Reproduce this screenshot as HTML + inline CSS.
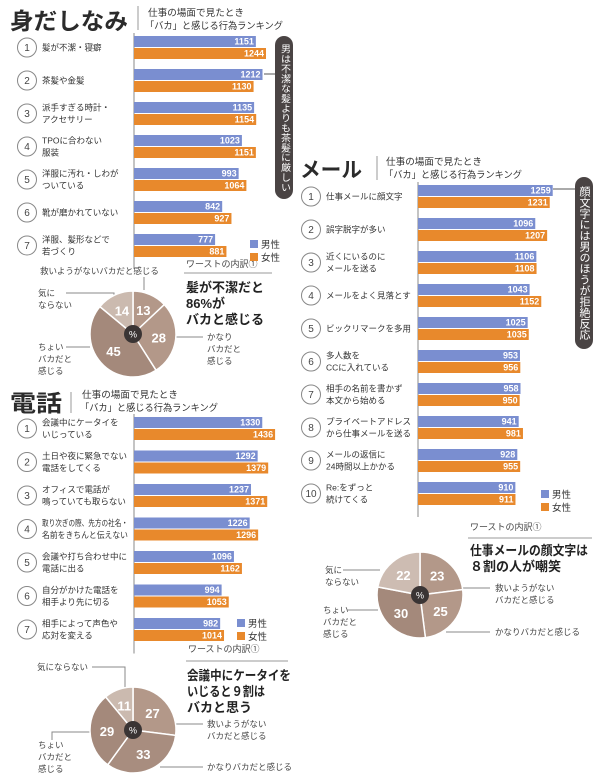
<!DOCTYPE html>
<html><head><meta charset="utf-8">
<style>
body{margin:0;background:#fff}
svg{display:block;font-family:"Liberation Sans","Noto Sans CJK JP",sans-serif}
.s{fill:#444;font-size:8.5px}
</style></head>
<body>
<svg id="c" width="600" height="779" viewBox="0 0 600 779">
<!-- section headers -->
<text x="10" y="29" font-size="23" font-weight="bold" fill="#2b2b2b" textLength="118" lengthAdjust="spacingAndGlyphs">身だしなみ</text>
<line x1="138" y1="6" x2="138" y2="30" stroke="#999"/>
<text x="148" y="16" font-size="9.5" fill="#333" textLength="96" lengthAdjust="spacingAndGlyphs">仕事の場面で見たとき</text>
<text x="145" y="29" font-size="9.5" fill="#333" textLength="138" lengthAdjust="spacingAndGlyphs">「バカ」と感じる行為ランキング</text>

<text x="10" y="411" font-size="23" font-weight="bold" fill="#2b2b2b" textLength="52" lengthAdjust="spacingAndGlyphs">電話</text>
<line x1="71" y1="392" x2="71" y2="413" stroke="#999"/>
<text x="82" y="398" font-size="9.5" fill="#333" textLength="96" lengthAdjust="spacingAndGlyphs">仕事の場面で見たとき</text>
<text x="80" y="411" font-size="9.5" fill="#333" textLength="138" lengthAdjust="spacingAndGlyphs">「バカ」と感じる行為ランキング</text>

<text x="300" y="177" font-size="21" font-weight="bold" fill="#2b2b2b" textLength="62" lengthAdjust="spacingAndGlyphs">メール</text>
<line x1="377" y1="156" x2="377" y2="180" stroke="#999"/>
<text x="386" y="165" font-size="9.5" fill="#333" textLength="96" lengthAdjust="spacingAndGlyphs">仕事の場面で見たとき</text>
<text x="384" y="178" font-size="9.5" fill="#333" textLength="138" lengthAdjust="spacingAndGlyphs">「バカ」と感じる行為ランキング</text>

<!-- callouts -->
<rect x="275" y="36" width="18" height="163" rx="9" fill="#4a4444"/>
<text x="284" y="44" font-size="10" fill="#fff" style="writing-mode:vertical-rl" textLength="148" lengthAdjust="spacingAndGlyphs">男は不潔な髪よりも茶髪に厳しい</text>
<line x1="264" y1="74" x2="275" y2="74" stroke="#555"/>
<rect x="575" y="177" width="18" height="172" rx="9" fill="#4a4444"/>
<text x="584" y="186" font-size="11" fill="#fff" style="writing-mode:vertical-rl">顔文字には男のほうが拒絶反応</text>
<line x1="553" y1="189" x2="575" y2="189" stroke="#555"/>

<!-- worst headers -->
<text x="186" y="267" font-size="9" fill="#444">ワーストの内訳①</text>
<line x1="184" y1="273" x2="272" y2="273" stroke="#999"/>
<text x="186" y="292" font-size="13" font-weight="bold" fill="#222">髪が不潔だと</text>
<text x="186" y="308" font-size="13" font-weight="bold" fill="#222">86%が</text>
<text x="186" y="324" font-size="13" font-weight="bold" fill="#222">バカと感じる</text>

<text x="188" y="652" font-size="9" fill="#444">ワーストの内訳①</text>
<line x1="186" y1="661" x2="288" y2="661" stroke="#999"/>
<text x="187" y="680" font-size="13" font-weight="bold" fill="#222" textLength="104" lengthAdjust="spacingAndGlyphs">会議中にケータイを</text>
<text x="187" y="696" font-size="13" font-weight="bold" fill="#222" textLength="78" lengthAdjust="spacingAndGlyphs">いじると９割は</text>
<text x="187" y="712" font-size="13" font-weight="bold" fill="#222">バカと思う</text>

<text x="470" y="530" font-size="9" fill="#444">ワーストの内訳①</text>
<line x1="468" y1="538" x2="592" y2="538" stroke="#999"/>
<text x="470" y="555" font-size="13" font-weight="bold" fill="#222" textLength="118" lengthAdjust="spacingAndGlyphs">仕事メールの顔文字は</text>
<text x="470" y="571" font-size="13" font-weight="bold" fill="#222">８割の人が嘲笑</text>

<!-- pie labels -->
<g class="s">
<text x="40" y="274">救いようがないバカだと感じる</text>
<polyline points="144,277 144,290" fill="none" stroke="#888"/>
<text x="38" y="296">気に</text><text x="38" y="308">ならない</text>
<polyline points="66,293 114,293 114,310" fill="none" stroke="#888"/>
<text x="38" y="350">ちょい</text><text x="38" y="362">バカだと</text><text x="38" y="374">感じる</text>
<polyline points="66,347 90,347" fill="none" stroke="#888"/>
<text x="207" y="340">かなり</text><text x="207" y="352">バカだと</text><text x="207" y="364">感じる</text>
<polyline points="176,337 203,337" fill="none" stroke="#888"/>
</g>
<g class="s">
<text x="37" y="670">気にならない</text>
<polyline points="92,667 125,667 125,690" fill="none" stroke="#888"/>
<text x="207" y="727">救いようがない</text><text x="207" y="739">バカだと感じる</text>
<polyline points="176,724 203,724" fill="none" stroke="#888"/>
<text x="207" y="770">かなりバカだと感じる</text>
<polyline points="160,767 203,767" fill="none" stroke="#888"/>
<text x="38" y="748">ちょい</text><text x="38" y="760">バカだと</text><text x="38" y="772">感じる</text>
<polyline points="52,740 52,732 92,732" fill="none" stroke="#888"/>
</g>
<g class="s">
<text x="325" y="573">気に</text><text x="325" y="585">ならない</text>
<polyline points="343,570 380,570" fill="none" stroke="#888"/>
<text x="495" y="591">救いようがない</text><text x="495" y="603">バカだと感じる</text>
<polyline points="463,588 490,588" fill="none" stroke="#888"/>
<text x="495" y="635">かなりバカだと感じる</text>
<polyline points="446,632 490,632" fill="none" stroke="#888"/>
<text x="323" y="613">ちょい</text><text x="323" y="625">バカだと</text><text x="323" y="637">感じる</text>
<polyline points="347,610 378,610" fill="none" stroke="#888"/>
</g>
<g id="dyn"></g>
</svg>
<script>
const s1Labels=[["髪が不潔・寝癖"],["茶髪や金髪"],["派手すぎる時計・","アクセサリー"],["TPOに合わない","服装"],["洋服に汚れ・しわが","ついている"],["靴が磨かれていない"],["洋服、髪形などで","若づくり"]];
const s1Male=[1151,1212,1135,1023,993,842,777];
const s1Female=[1244,1130,1154,1151,1064,927,881];
const s2Labels=[["会議中にケータイを","いじっている"],["土日や夜に緊急でない","電話をしてくる"],["オフィスで電話が","鳴っていても取らない"],["取り次ぎの際、先方の社名・","名前をきちんと伝えない"],["会議や打ち合わせ中に","電話に出る"],["自分がかけた電話を","相手より先に切る"],["相手によって声色や","応対を変える"]];
const s2Male=[1330,1292,1237,1226,1096,994,982];
const s2Female=[1436,1379,1371,1296,1162,1053,1014];
const s3Labels=[["仕事メールに顔文字"],["誤字脱字が多い"],["近くにいるのに","メールを送る"],["メールをよく見落とす"],["ビックリマークを多用"],["多人数を","CCに入れている"],["相手の名前を書かず","本文から始める"],["プライベートアドレス","から仕事メールを送る"],["メールの返信に","24時間以上かかる"],["Re:をずっと","続けてくる"]];
const s3Male=[1259,1096,1106,1043,1025,953,958,941,928,910];
const s3Female=[1231,1207,1108,1152,1035,956,950,981,955,911];
const pie1Values=[13,28,45,14];
const pie2Values=[27,33,29,11];
const pie3Values=[23,25,30,22];

const NS="http://www.w3.org/2000/svg";
const root=document.getElementById('dyn');
function mk(tag,attrs,parent){const e=document.createElementNS(NS,tag);for(const k in attrs)e.setAttribute(k,attrs[k]);(parent||root).appendChild(e);return e;}
const MALE="#7a8ed0",FEMALE="#e8892c";

function section(id,labels,male,female,cfg){
  const g=mk('g',{});
  
  
  const xs=v=>cfg.x0+(v-cfg.off)*cfg.k;
  const ax=mk('line',{x1:cfg.x0,y1:cfg.y0-3,x2:cfg.x0,y2:cfg.y0+labels.length*cfg.step+2,stroke:'#888'},g);
  
  
  const maxW=cfg.x0-(cfg.cx+15)-6;
  labels.forEach((lab,i)=>{
    const y=cfg.y0+i*cfg.step, cy=y+11.5;
    const c=mk('circle',{cx:cfg.cx,cy:cy,r:9.5,fill:'#fff',stroke:'#888','stroke-width':1},g);
    
    
    const n=mk('text',{x:cfg.cx,y:cy+3.5,'text-anchor':'middle','font-size':10,fill:'#444'},g);n.textContent=i+1;
    lab.forEach((l,j)=>{
      const t=mk('text',{x:cfg.cx+15,y:cy+3+(lab.length===2?(j?6:-6):0),'font-size':8.5,fill:'#333'},g);
      t.textContent=l;
      
      
      if(t.getComputedTextLength()>maxW){t.setAttribute('textLength',maxW);t.setAttribute('lengthAdjust','spacingAndGlyphs');}
    });
    [[male[i],MALE,y,'male'],[female[i],FEMALE,y+12,'female']].forEach(([v,col,by,nm])=>{
      const r=mk('rect',{x:cfg.x0,y:by,width:xs(v)-cfg.x0,height:11,fill:col},g);
      
      
      const t=mk('text',{x:xs(v)-2,y:by+8.5,'text-anchor':'end','font-size':9,'font-weight':'bold',fill:'#fff'},g);
      t.textContent=v;
    });
  });
  [['男性',MALE,0],['女性',FEMALE,13]].forEach(([l,col,dy])=>{
    const r=mk('rect',{x:cfg.lx,y:cfg.ly+dy,width:8,height:8,fill:col},g);
    
    
    const t=mk('text',{x:cfg.lx+11,y:cfg.ly+dy+8,'font-size':9.5,fill:'#333'},g);t.textContent=l;
  });
}
section('appearance',s1Labels,s1Male,s1Female,{x0:134,off:33,k:0.109,y0:36,step:33,cx:27,lx:250,ly:240});
section('phone',s2Labels,s2Male,s2Female,{x0:134,off:270,k:0.121,y0:417,step:33.5,cx:27,lx:237,ly:619});
section('mail',s3Labels,s3Male,s3Female,{x0:418,off:0,k:0.107,y0:185,step:33,cx:311,lx:541,ly:490});

function pie(id,vals,cx,cy,cols){
  const g=mk('g',{});
  
  
  const R=43,tot=vals.reduce((a,b)=>a+b,0);let a0=0;
  vals.forEach((v,i)=>{
    const a1=a0+v/tot*2*Math.PI;
    const p=(a)=>[cx+R*Math.sin(a),cy-R*Math.cos(a)];
    const [x0,y0]=p(a0),[x1,y1]=p(a1);
    const s=mk('path',{d:`M${cx},${cy}L${x0},${y0}A${R},${R} 0 ${a1-a0>Math.PI?1:0} 1 ${x1},${y1}Z`,fill:cols[i],stroke:'#fff','stroke-width':1.5},g);
    
    
    const am=(a0+a1)/2;
    const t=mk('text',{x:cx+26*Math.sin(am),y:cy-26*Math.cos(am)+5,'text-anchor':'middle','font-size':13,'font-weight':'bold',fill:'#fff'},g);
    t.textContent=v;
    a0=a1;
  });
  mk('circle',{cx:cx,cy:cy,r:9,fill:'#3a3434'},g);
  const t=mk('text',{x:cx,y:cy+3.5,'text-anchor':'middle','font-size':9,fill:'#fff'},g);t.textContent='%';
}
pie('pie-appearance',pie1Values,133,334,['#b39889','#b39889','#a4897b','#cbbaaf']);
pie('pie-phone',pie2Values,133,730,['#b39889','#a88d7f','#a4897b','#cbbaaf']);
pie('pie-mail',pie3Values,420,595,['#b39889','#b39889','#a4897b','#cdbcb2']);
</script>
</body></html>
